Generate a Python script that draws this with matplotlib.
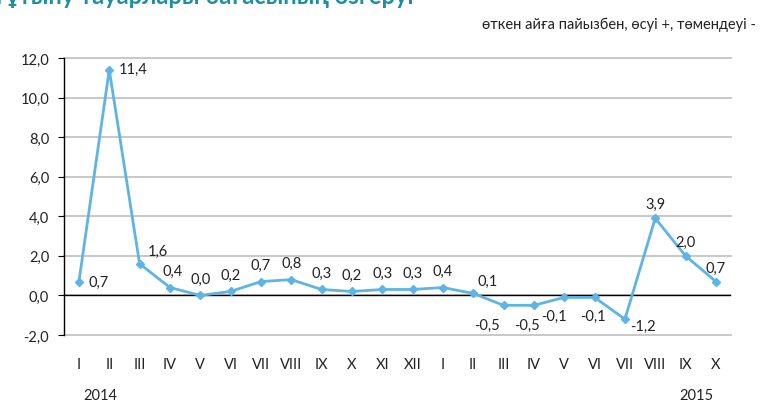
import numpy as np
import matplotlib.pyplot as plt

plt.rcParams['font.family'] = ['Lato', 'Noto Sans', 'DejaVu Sans']

months = ['I', 'II', 'III', 'IV', 'V', 'VI', 'VII', 'VIII', 'IX', 'X', 'XI', 'XII',
          'I', 'II', 'III', 'IV', 'V', 'VI', 'VII', 'VIII', 'IX', 'X']
values = [0.7, 11.4, 1.6, 0.4, 0.0, 0.2, 0.7, 0.8, 0.3, 0.2, 0.3, 0.3,
          0.4, 0.1, -0.5, -0.5, -0.1, -0.1, -1.2, 3.9, 2.0, 0.7]
years = ['2014', '2015']

# label offsets in points (dx, dy, ha)
offs = [(7, 0, 'left'), (7, 1, 'left'), (6, 9, 'left'), (2, 12, 'center'),
        (0, 12, 'center'), (0, 12, 'center'), (0, 12, 'center'), (0, 12, 'center'),
        (0, 12, 'center'), (0, 12, 'center'), (0, 12, 'center'), (0, 12, 'center'),
        (0, 12, 'center'), (3, 9, 'left'), (-3, -14, 'right'), (4, -14, 'right'),
        (2, -13, 'right'), (-1, -13, 'center'), (4, -5, 'left'), (0, 10, 'center'),
        (0, 10, 'center'), (0, 10, 'center')]

fig = plt.figure(figsize=(7.6, 4.02), dpi=100)
ax = fig.add_axes([0.0839, 0.1642, 0.878, 0.689])

x = np.arange(len(values))
ax.plot(x, values, color='#5DB4E5', lw=2, marker='D', ms=4.5, zorder=3)

for xi, v, (dx, dy, ha) in zip(x, values, offs):
    ax.annotate(f'{v:.1f}'.replace('.', ','), (xi, v), xytext=(dx, dy),
                textcoords='offset points', ha=ha, va='center', fontsize=10.5,
                color='#222222')

ax.set_xlim(-0.5, len(values) - 0.5)
ax.set_ylim(-2, 12)
ax.set_yticks(np.arange(-2, 13, 2))
ax.set_yticklabels([f'{t:.1f}'.replace('.', ',') for t in np.arange(-2, 13, 2)])
ax.set_xticks(x)
ax.set_xticklabels(months)
ax.tick_params(axis='x', length=0, pad=16, labelsize=10.5, colors='#222222')
ax.tick_params(axis='y', length=4.5, pad=6, labelsize=10.5, colors='#222222')
ax.tick_params(axis='y', color='black')

ax.yaxis.grid(True, color='#BFBFBF', lw=1.2)
for gl in ax.get_ygridlines():
    gl.set_clip_on(False)
ax.set_axisbelow(True)
ax.axhline(0, color='black', lw=1, zorder=2)
for s in ['top', 'right', 'bottom']:
    ax.spines[s].set_visible(False)
ax.spines['left'].set_color('black')
ax.spines['left'].set_linewidth(1)

ax.annotate(years[0], (0, 0), xycoords=('data', 'axes fraction'), xytext=(3, -43),
            textcoords='offset points', ha='left', va='center', fontsize=10.5,
            color='#222222')
ax.annotate(years[1], (len(values) - 1, 0), xycoords=('data', 'axes fraction'),
            xytext=(-2, -43), textcoords='offset points', ha='right', va='center',
            fontsize=10.5, color='#222222')

fig.text(0.995, 0.938, 'өткен айға пайызбен, өсуі +, төмендеуі -', ha='right',
         va='center', fontsize=10.5, color='#222222')
fig.text(-0.01, 0.99, 'Тұтыну тауарлары бағасының өзгеруі', ha='left', va='baseline',
         fontsize=17, fontweight='bold', color='#1B8FA3')

fig.savefig('out.png', dpi=100)
